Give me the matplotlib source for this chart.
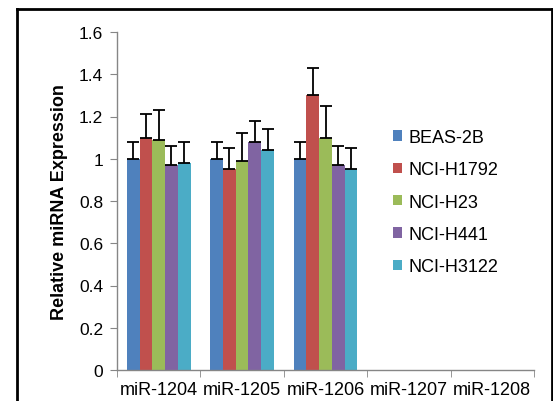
import matplotlib.pyplot as plt
import numpy as np
from matplotlib.lines import Line2D
from matplotlib.ticker import FixedLocator, FuncFormatter

plt.rcParams['font.family'] = ['Liberation Sans', 'DejaVu Sans']

# 数据
categories = ['miR-1204', 'miR-1205', 'miR-1206', 'miR-1207', 'miR-1208']
series = ['BEAS-2B', 'NCI-H1792', 'NCI-H23', 'NCI-H441', 'NCI-H3122']
values = [
    [1.00, 1.00, 1.00, 0, 0],
    [1.10, 0.95, 1.30, 0, 0],
    [1.09, 0.99, 1.10, 0, 0],
    [0.97, 1.08, 0.97, 0, 0],
    [0.98, 1.04, 0.95, 0, 0],
]
errors = [
    [0.08, 0.08, 0.08, 0, 0],
    [0.11, 0.10, 0.13, 0, 0],
    [0.14, 0.13, 0.15, 0, 0],
    [0.09, 0.10, 0.09, 0, 0],
    [0.10, 0.10, 0.10, 0, 0],
]
colors = ['#4F81BD', '#C0504D', '#9BBB59', '#8064A2', '#4BACC6']

W, H = 553, 402
fig = plt.figure(figsize=(W / 100, H / 100), dpi=100)
ax = fig.add_axes([117 / W, 31 / H, (534 - 117) / W, (371 - 33) / H])

x = np.arange(len(categories))
bw = 0.153
n_data = 3  # 只有前三组有数据
for i, name in enumerate(series):
    pos = x + (i - 2) * bw
    ax.bar(pos, values[i], width=bw, color=colors[i], label=name, zorder=2)
    ax.errorbar(pos[:n_data], values[i][:n_data],
                yerr=[[0] * n_data, errors[i][:n_data]],
                fmt='none', ecolor='black', elinewidth=1.3, capsize=4,
                capthick=1.3, zorder=3)

ax.set_xlim(-0.5, len(categories) - 0.5)
ax.set_ylim(0, 1.6)
ax.set_yticks(np.arange(0, 1.61, 0.2))
ax.yaxis.set_major_formatter(FuncFormatter(lambda v, p: '%g' % round(v, 1)))
ax.set_xticks(x)
ax.set_xticklabels(categories)
ax.xaxis.set_minor_locator(FixedLocator(np.arange(-0.5, len(categories), 1.0)))
ax.tick_params(axis='x', which='major', length=0, labelsize=13, pad=8)
ax.tick_params(axis='x', which='minor', length=5, color='#868686', direction='out')
ax.tick_params(axis='y', length=5, color='#868686', labelsize=12.5, pad=5)

for s in ['top', 'right']:
    ax.spines[s].set_visible(False)
for s in ['left', 'bottom']:
    ax.spines[s].set_color('#868686')
    ax.spines[s].set_linewidth(1.0)

ax.set_ylabel('Relative miRNA Expression', fontsize=13, fontweight='bold', labelpad=8)

leg = ax.legend(loc='center left', bbox_to_anchor=(393 / W, 1 - 203 / H),
                bbox_transform=fig.transFigure, frameon=False, fontsize=13,
                handlelength=0.5, handleheight=0.5, handletextpad=0.35,
                labelspacing=0.85, borderpad=0, borderaxespad=0)

# 外框
lw = 2
fig.add_artist(Line2D([17 / W, 17 / W], [0, 1 - 10 / H], color='black', lw=lw))
fig.add_artist(Line2D([17 / W, 552 / W], [1 - 10 / H, 1 - 10 / H], color='black', lw=lw))
fig.add_artist(Line2D([552 / W, 552 / W], [0, 1 - 10 / H], color='black', lw=lw))

fig.savefig('out.png', dpi=100)
